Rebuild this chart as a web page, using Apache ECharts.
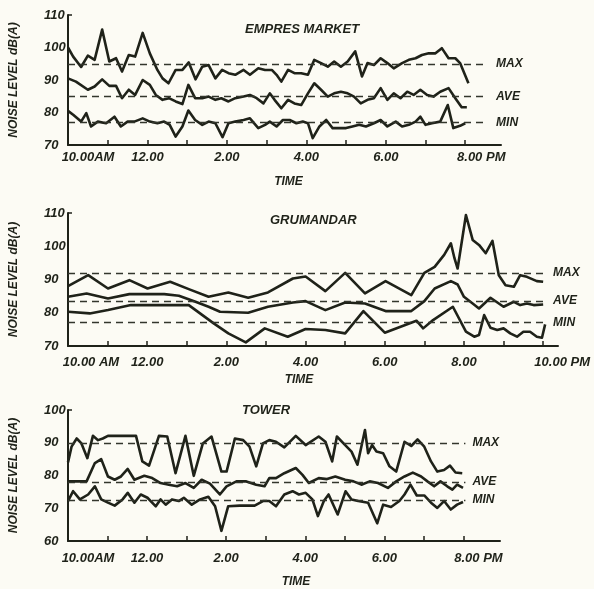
<!DOCTYPE html>
<html>
<head>
<meta charset="utf-8">
<script src="https://cdn.jsdelivr.net/npm/echarts@6/dist/echarts.min.js"></script>
<style>
html,body{margin:0;padding:0;background:#fcfbf4;}
#c{width:594px;height:589px;}
</style>
</head>
<body>
<div id="c"></div>
<script>
// ---------- DATA ----------
const refLabels = ['MAX', 'AVE', 'MIN'];

// Panel 1: EMPRES MARKET  [hour (24h), dB(A)]
const empresMax = [[10.0,100],[10.13,97.2],[10.33,94],[10.5,97.5],[10.67,96.2],[10.86,105.5],[11.04,95.7],[11.21,96.7],[11.36,92.6],[11.53,97.7],[11.69,97.2],[11.88,104.5],[12.06,98.2],[12.25,93.1],[12.38,90.5],[12.53,89],[12.71,93.1],[12.88,93.1],[13.04,95.4],[13.21,90.2],[13.38,94.1],[13.54,94.6],[13.71,90.5],[13.88,93.1],[14.04,92.1],[14.21,91.6],[14.42,93.1],[14.58,91.6],[14.79,93.6],[14.96,93.1],[15.13,93.1],[15.25,91.6],[15.37,89.5],[15.54,93.1],[15.7,92.1],[15.87,92.1],[16.04,91.6],[16.2,96.2],[16.37,95.2],[16.54,94.1],[16.7,95.7],[16.87,94.1],[17.04,95.7],[17.23,98.8],[17.4,91.1],[17.54,95.2],[17.7,94.6],[17.87,96.7],[18.04,95.2],[18.2,93.6],[18.41,95.2],[18.58,96.2],[18.75,96.7],[18.91,97.7],[19.08,98.2],[19.25,98.2],[19.41,99.8],[19.58,96.7],[19.75,96.7],[19.87,95.2],[20.08,89]];
const empresAve = [[10.0,90.5],[10.2,89.5],[10.5,87],[10.67,88],[10.86,90.2],[11.04,88.2],[11.21,88.2],[11.36,84.4],[11.53,87],[11.69,85.4],[11.88,90],[12.06,88.5],[12.21,85.4],[12.38,83.9],[12.54,84.4],[12.71,83.4],[12.88,82.6],[13.03,88.5],[13.2,84.4],[13.38,84.4],[13.54,84.9],[13.71,83.9],[13.86,84.4],[14.04,83.4],[14.21,84.4],[14.42,84.9],[14.58,85.4],[14.75,84.4],[14.92,82.8],[15.08,85.9],[15.2,83.9],[15.37,81.3],[15.54,83.9],[15.7,82.8],[15.87,82.3],[16.04,85.9],[16.2,89],[16.37,87],[16.54,84.9],[16.7,85.9],[16.87,86.4],[17.04,85.9],[17.2,84.9],[17.37,82.8],[17.54,83.9],[17.7,84.4],[17.87,87.5],[18.04,83.9],[18.2,85.9],[18.37,84.4],[18.54,86.4],[18.7,85.4],[18.87,87],[19.04,85.4],[19.2,84.9],[19.37,86.4],[19.58,87.5],[19.75,84.4],[19.91,81.6],[20.04,81.6]];
const empresMin = [[10.0,80.5],[10.13,79.3],[10.33,77.2],[10.46,79.8],[10.58,75.7],[10.75,77.2],[10.96,76.7],[11.17,78.7],[11.33,75.7],[11.5,77.2],[11.67,77.2],[11.88,78.2],[12.06,77.2],[12.25,76.7],[12.42,77.2],[12.56,76.2],[12.71,72.6],[12.88,75.7],[13.03,80.6],[13.2,77.7],[13.38,76.2],[13.54,77.2],[13.71,76.7],[13.89,72.4],[14.04,76.7],[14.21,77.2],[14.42,77.7],[14.58,78.2],[14.79,75.2],[14.96,76.2],[15.08,77.2],[15.25,75.7],[15.41,77.7],[15.58,77.7],[15.75,76.7],[15.91,77.2],[16.04,76.7],[16.16,72.1],[16.33,75.7],[16.5,77.7],[16.66,75.2],[16.83,75.2],[17.0,75.2],[17.16,75.7],[17.33,76.2],[17.5,75.7],[17.7,76.7],[17.87,77.7],[18.04,75.7],[18.25,77.2],[18.41,75.7],[18.58,76.2],[18.75,77.2],[18.87,78.7],[19.0,76.2],[19.16,76.7],[19.37,77.2],[19.56,82.3],[19.7,75.2],[19.87,75.9],[20.0,76.7]];
const empresRef = [95, 85, 77];

// Panel 2: GRUMANDAR
const grumMax = [[10,88],[10.51,91.3],[11.01,87.3],[11.55,89.8],[12.01,87.3],[12.58,89.3],[13.05,87.1],[13.55,84.8],[14.05,86.1],[14.55,84.5],[15.05,86.1],[15.68,90.3],[16.0,90.9],[16.5,86.5],[17.0,92],[17.5,85.8],[18.02,89.5],[18.67,85.3],[19.0,92],[19.26,93.8],[19.5,97.4],[19.67,100.9],[19.76,96.4],[19.84,93.3],[20.05,109.4],[20.22,101.9],[20.38,100.4],[20.55,97.9],[20.72,101.6],[20.88,91.3],[21.05,88.3],[21.26,87.8],[21.42,91.3],[21.59,90.8],[21.84,89.5],[22.0,89.3]];
const grumAve = [[10,84.8],[10.47,85.8],[11.01,84.3],[11.55,85.6],[12.43,85.6],[12.8,85.1],[13.22,83.3],[13.55,81.8],[13.84,80.3],[14.55,80],[15.05,81.8],[15.68,83.1],[16.0,83.5],[16.5,80.8],[17.0,83.1],[17.5,82.8],[18.02,80.5],[18.67,80.5],[19.0,83.5],[19.26,87.3],[19.67,89.5],[19.84,88.5],[20.0,84.8],[20.22,82.8],[20.38,81.3],[20.67,84.5],[21.0,81.8],[21.26,83.3],[21.42,82.3],[21.59,82.8],[21.76,82.3],[22.0,82.5]];
const grumMin = [[10,80.3],[10.55,79.8],[11.01,80.8],[11.59,82.3],[12.43,82.3],[13.05,82.3],[13.68,76.8],[14.05,73.8],[14.49,71.1],[14.97,75.3],[15.55,72.8],[16.0,75.1],[16.5,74.8],[17.0,73.8],[17.46,80.5],[18.0,74],[18.8,77.6],[18.97,75.3],[19.22,77.8],[19.72,81.8],[20.05,74.3],[20.26,72.8],[20.38,73.3],[20.51,79.3],[20.67,75.5],[20.84,74.8],[21.0,75.3],[21.17,73.8],[21.34,72.8],[21.5,74.3],[21.67,74.3],[21.84,72.8],[21.97,72.5],[22.05,76.5]];
const grumRef = [92, 83.5, 77];

// Panel 3: TOWER
const towerMax = [[10,84],[10.09,88.8],[10.22,91.3],[10.34,89.8],[10.49,85.3],[10.63,92.1],[10.76,90.8],[10.88,91.3],[11.01,92.1],[11.72,92.1],[11.88,84.3],[12.05,83],[12.3,92.1],[12.51,91.9],[12.72,80.7],[12.97,92.1],[13.18,79.9],[13.41,89.8],[13.63,91.9],[13.88,81.2],[14.01,81.2],[14.22,91.3],[14.43,90.8],[14.59,88.8],[14.76,82.8],[14.93,89.8],[15.09,90.8],[15.26,90.3],[15.47,88.6],[15.76,92.1],[16.01,89.3],[16.34,91.9],[16.51,90.3],[16.68,84.3],[16.8,91.9],[17.01,89.3],[17.17,87.3],[17.32,83.3],[17.51,93.9],[17.59,86.8],[17.69,89.3],[17.8,87.3],[17.97,86.8],[18.13,82.8],[18.3,81.2],[18.51,90.3],[18.68,89],[18.84,91],[19.01,88.8],[19.18,84.3],[19.34,81.2],[19.51,81.7],[19.66,83],[19.8,80.9],[19.97,80.7]];
const towerAve = [[10,78.2],[10.47,78.2],[10.68,83.8],[10.84,85],[11.01,79.7],[11.18,78.7],[11.34,79.7],[11.51,82],[11.68,78.7],[11.93,79.9],[12.13,79.2],[12.34,77.7],[12.55,77.2],[12.76,76.7],[12.97,77.7],[13.18,76.2],[13.38,78.7],[13.59,77.5],[13.84,74.2],[14.01,76.7],[14.26,78.2],[14.51,78.2],[14.76,77.2],[14.97,76.7],[15.09,79.2],[15.26,79.2],[15.47,80.7],[15.76,82.3],[15.93,80.2],[16.09,77.7],[16.34,79.2],[16.55,78.9],[16.76,79.7],[17.01,78.7],[17.22,78.2],[17.42,77.2],[17.63,78.2],[17.84,77.7],[18.09,76.2],[18.3,78.2],[18.51,79.7],[18.72,80.9],[18.93,79.7],[19.09,78.2],[19.26,76.7],[19.42,78.2],[19.59,76.7],[19.72,75.7],[19.84,77.2],[19.99,76.2]];
const towerMin = [[10,72.2],[10.13,75.2],[10.3,72.7],[10.51,74.2],[10.68,76.7],[10.84,72.7],[11.01,71.7],[11.18,70.8],[11.38,72.7],[11.51,74.7],[11.68,71.7],[11.84,74.2],[12.01,73.2],[12.22,70.6],[12.34,72.7],[12.47,71.1],[12.63,72.7],[12.8,72.2],[12.93,73.2],[13.13,71.1],[13.34,72.7],[13.55,73.5],[13.72,70.6],[13.88,63.1],[14.05,70.6],[14.34,70.8],[14.72,70.8],[14.93,72.2],[15.09,72.2],[15.26,70.6],[15.47,74.2],[15.68,75.2],[15.84,74.2],[16.01,74.7],[16.18,72.7],[16.32,67.6],[16.47,72.2],[16.59,74.2],[16.82,68.1],[17.02,75.2],[17.17,72.7],[17.34,72.2],[17.59,71.7],[17.82,65.4],[17.97,71.1],[18.17,70.4],[18.38,72.2],[18.51,74.2],[18.66,77.2],[18.82,73.9],[19.01,73.9],[19.18,71.7],[19.34,70.1],[19.51,72.2],[19.68,69.6],[19.84,71.1],[19.99,71.9]];
const towerRef = [90, 78, 72.5];

// Tick labels
const tickHours1 = [10, 12, 14, 16, 18, 20];
const tickLabels1 = ['10.00AM', '12.00', '2.00', '4.00', '6.00', '8.00 PM'];
const tickHours2 = [10, 12, 14, 16, 18, 20, 22];
const tickLabels2 = ['10.00 AM', '12.00', '2.00', '4.00', '6.00', '8.00', '10.00 PM'];
const tickHours3 = [10, 12, 14, 16, 18, 20];
const tickLabels3 = ['10.00AM', '12.00', '2.00', '4.00', '6.00', '8.00 PM'];
const titles = ['EMPRES MARKET', 'GRUMANDAR', 'TOWER'];
const yName = 'NOISE LEVEL dB(A)';
const xName = 'TIME';

// ---------- STYLE ----------
const INK = '#1f2219';
const FONT = 'Liberation Sans';
const txt = {color: INK, fontFamily: FONT, fontWeight: 'bold', fontStyle: 'italic', fontSize: 13};

const panels = [
  {grid:{left:65, top:15, width:436, height:130}, xmax:20.9, ymin:70, ymax:110, hours:tickHours1, labels:tickLabels1, firstPad:40, lastPad:32, ticks:[11,12,13,14,15,16,17,18,19,20], refEnd:20.55, refDist:9, labelMargin:6, nameGap:31, namePad:[0,0,0,8], series:[empresMax, empresAve, empresMin], refs:empresRef, title:{left:245, top:23}},
  {grid:{left:63, top:213, width:495, height:133}, xmax:22.375, ymin:70, ymax:110, hours:tickHours2, labels:tickLabels2, firstPad:46, lastPad:38, ticks:[11,12,13,14,15,16,17,18,19,20,21,22], refEnd:22.1, refDist:6, labelMargin:10, nameGap:28, namePad:[0,28,0,0], series:[grumMax, grumAve, grumMin], refs:grumRef, title:{left:270, top:214}},
  {grid:{left:63, top:410, width:437, height:131}, xmax:20.925, ymin:60, ymax:100, hours:tickHours3, labels:tickLabels3, firstPad:40, lastPad:30, ticks:[11,12,13,14,15,16,17,18,19,20], refEnd:20.05, refDist:7, labelMargin:11, nameGap:35, namePad:[0,0,0,24], series:[towerMax, towerAve, towerMin], refs:towerRef, title:{left:242, top:404}}
];

const option = {
  backgroundColor: '#fcfbf4',
  animation: false,
  title: panels.map((p, i) => ({text: titles[i], left: p.title.left, top: p.title.top, padding: 0,
    textStyle: Object.assign({}, txt, {fontSize: 13})})),
  grid: panels.map(p => p.grid),
  xAxis: panels.map((p, i) => ({
    type: 'value', gridIndex: i, min: 10, max: p.xmax,
    name: xName, nameLocation: 'middle', nameGap: p.nameGap,
    nameTextStyle: Object.assign({}, txt, {fontSize: 12, padding: p.namePad}),
    axisLine: {show: true, onZero: false, lineStyle: {color: INK, width: 2}},
    axisTick: {show: true, inside: true, length: 5, customValues: p.ticks, lineStyle: {color: INK, width: 1.5}},
    splitLine: {show: false},
    axisLabel: {
      customValues: p.hours, margin: p.labelMargin, color: INK, fontFamily: FONT, fontWeight: 'bold', fontStyle: 'italic', fontSize: 13,
      formatter: v => {
        const k = p.hours.indexOf(v);
        if (k < 0) return '';
        if (k === 0) return '{f|' + p.labels[k] + '}';
        if (k === p.hours.length - 1) return '{l|' + p.labels[k] + '}';
        return p.labels[k];
      },
      rich: {
        f: Object.assign({}, txt, {padding: [0, 0, 0, p.firstPad]}),
        l: Object.assign({}, txt, {padding: [0, 0, 0, p.lastPad]})
      }
    }
  })),
  yAxis: panels.map((p, i) => ({
    type: 'value', gridIndex: i, min: p.ymin, max: p.ymax, interval: 10,
    name: yName, nameLocation: 'middle', nameGap: 48,
    nameTextStyle: Object.assign({}, txt, {fontSize: 12}),
    axisLine: {show: true, lineStyle: {color: INK, width: 2}},
    axisTick: {show: true, inside: true, length: 4, customValues: [p.ymax], lineStyle: {color: INK, width: 1.5}},
    splitLine: {show: false},
    axisLabel: Object.assign({}, txt, {align: 'left', margin: 24})
  })),
  series: []
};

panels.forEach((p, i) => {
  p.series.forEach((d, j) => {
    const s = {
      type: 'line', xAxisIndex: i, yAxisIndex: i, data: d,
      showSymbol: false, symbol: 'none',
      lineStyle: {color: INK, width: 2.6, join: 'round'}
    };
    if (j === 0) {
      s.markLine = {
        silent: true, symbol: ['none', 'none'], animation: false,
        lineStyle: {color: '#33362c', width: 1.4, type: [7, 5]},
        label: Object.assign({}, txt, {show: true, position: 'end', distance: p.refDist, formatter: '{b}', fontSize: 12}),
        emphasis: {disabled: true},
        data: p.refs.map((v, k) => [{coord: [10, v], name: refLabels[k]}, {coord: [p.refEnd, v]}])
      };
    }
    option.series.push(s);
  });
});

const chart = echarts.init(document.getElementById('c'), null, {renderer: 'canvas'});
chart.setOption(option);
</script>
</body>
</html>
